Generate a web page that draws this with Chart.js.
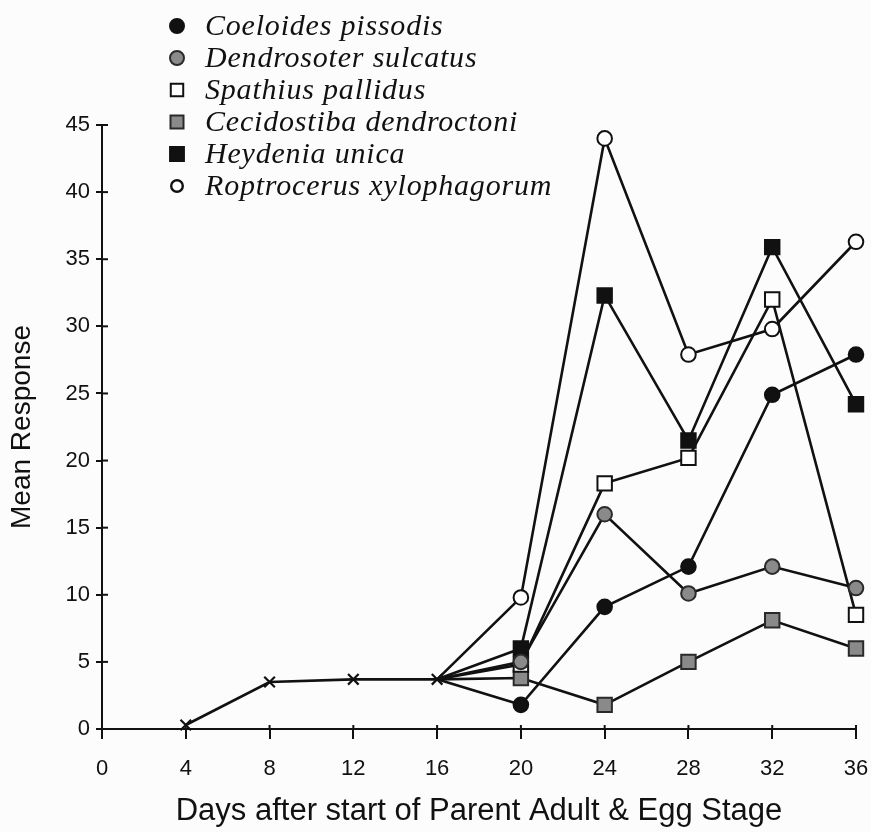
<!DOCTYPE html>
<html>
<head>
<meta charset="utf-8">
<script src="https://cdn.jsdelivr.net/npm/chart.js@4/dist/chart.umd.min.js"></script>
<style>
html, body { margin: 0; padding: 0; background: #fcfcfc; }
#wrap { width: 871px; height: 832px; position: relative; }
canvas { display: block; }
</style>
</head>
<body>
<div id="wrap"><canvas id="c" width="871" height="832"></canvas></div>
<script>
// ---- Data ----
const earlyDays   = [4, 8, 12, 16];
const earlyValues = [0.3, 3.5, 3.7, 3.7];

const lateDays    = [16, 20, 24, 28, 32, 36];
const coeloides   = [3.7, 1.8, 9.1, 12.1, 24.9, 27.9];
const dendrosoter = [3.7, 5.0, 16.0, 10.1, 12.1, 10.5];
const spathius    = [3.7, 4.8, 18.3, 20.2, 32.0, 8.5];
const cecidostiba = [3.7, 3.8, 1.8, 5.0, 8.1, 6.0];
const heydenia    = [3.7, 6.0, 32.3, 21.5, 35.9, 24.2];
const roptrocerus = [3.7, 9.8, 44.0, 27.9, 29.8, 36.3];

const speciesNames = [
  'Coeloides pissodis',
  'Dendrosoter sulcatus',
  'Spathius pallidus',
  'Cecidostiba dendroctoni',
  'Heydenia unica',
  'Roptrocerus xylophagorum'
];

const xTickValues = [0, 4, 8, 12, 16, 20, 24, 28, 32, 36];
const yTickValues = [0, 5, 10, 15, 20, 25, 30, 35, 40, 45];

const xTitle = 'Days after start of Parent Adult & Egg Stage';
const yTitle = 'Mean Response';

// ---- Styles ----
const INK = '#111111';
const GRAY = '#8a8a8a';
const markerStyles = [
  { pointStyle: 'circle', fill: INK,    border: INK,  radius: 7.3 },
  { pointStyle: 'circle', fill: GRAY,   border: '#2a2a2a', radius: 7.3 },
  { pointStyle: 'rect',   fill: '#fff', border: INK,  radius: 10.2 },
  { pointStyle: 'rect',   fill: GRAY,   border: '#2a2a2a', radius: 10.2 },
  { pointStyle: 'rect',   fill: INK,    border: INK,  radius: 10.2 },
  { pointStyle: 'circle', fill: '#fff', border: INK,  radius: 7.3 }
];
const legendMarkerSizes = [7, 7, 8.8, 9.2, 9.8, 5.8];

function pairs(xs, ys) { return xs.map((x, i) => ({ x: x, y: ys[i] })); }

const seriesValues = [coeloides, dendrosoter, spathius, cecidostiba, heydenia, roptrocerus];

const datasets = seriesValues.map((vals, k) => ({
  label: speciesNames[k],
  data: pairs(lateDays, vals),
  borderColor: INK,
  borderWidth: 2.6,
  backgroundColor: markerStyles[k].fill,
  pointStyle: markerStyles[k].pointStyle,
  pointBackgroundColor: markerStyles[k].fill,
  pointBorderColor: markerStyles[k].border,
  pointBorderWidth: 2,
  pointRadius: (ctx) => ctx.dataIndex === 0 ? 0 : markerStyles[k].radius,
  pointHoverRadius: (ctx) => ctx.dataIndex === 0 ? 0 : markerStyles[k].radius,
  tension: 0,
  fill: false,
  clip: false
}));

datasets.push({
  label: 'early',
  data: pairs(earlyDays, earlyValues),
  borderColor: INK,
  borderWidth: 2.6,
  pointStyle: 'crossRot',
  pointRadius: 7.5,
  pointBorderColor: INK,
  pointBorderWidth: 2.2,
  tension: 0,
  fill: false,
  clip: false
});

// inner halves of tick marks (ticks cross the axis lines)
const innerTicks = {
  id: 'innerTicks',
  afterDraw(chart) {
    const ctx = chart.ctx;
    const xs = chart.scales.x, ys = chart.scales.y;
    ctx.save();
    ctx.strokeStyle = INK;
    ctx.lineWidth = 2;
    xTickValues.forEach(v => {
      const px = xs.getPixelForValue(v);
      ctx.beginPath(); ctx.moveTo(px, xs.top); ctx.lineTo(px, xs.top - 4); ctx.stroke();
    });
    yTickValues.forEach(v => {
      const py = ys.getPixelForValue(v);
      ctx.beginPath(); ctx.moveTo(ys.right, py); ctx.lineTo(ys.right + 6, py); ctx.stroke();
    });
    ctx.restore();
  }
};

// legend as a vertical list at top-left
const speciesLegend = {
  id: 'speciesLegend',
  afterDraw(chart) {
    const ctx = chart.ctx;
    const mx = 177, tx = 205, y0 = 26, dy = 32;
    ctx.save();
    speciesNames.forEach((name, k) => {
      const y = y0 + k * dy;
      const m = markerStyles[k];
      ctx.fillStyle = m.fill;
      ctx.strokeStyle = m.border;
      ctx.lineWidth = (k === 5) ? 2.4 : 2;
      Chart.helpers.drawPoint(ctx, { pointStyle: m.pointStyle, radius: legendMarkerSizes[k], rotation: 0, borderWidth: ctx.lineWidth }, mx, y);
      ctx.fillStyle = INK;
      ctx.font = 'italic 30px "Liberation Serif", "Times New Roman", serif';
      if ('letterSpacing' in ctx) ctx.letterSpacing = '0.8px';
      ctx.textBaseline = 'middle';
      ctx.textAlign = 'left';
      ctx.fillText(name, tx, y + 1);
      if ('letterSpacing' in ctx) ctx.letterSpacing = '0px';
    });
    ctx.restore();
  }
};

new Chart(document.getElementById('c'), {
  type: 'line',
  data: { datasets: datasets },
  plugins: [innerTicks, speciesLegend],
  options: {
    responsive: false,
    devicePixelRatio: 1,
    animation: false,
    layout: { autoPadding: false, padding: { top: 125, right: 15, left: 0, bottom: 0 } },
    plugins: { legend: { display: false }, tooltip: { enabled: false } },
    scales: {
      x: {
        type: 'linear',
        min: 0, max: 36,
        afterBuildTicks: (s) => { s.ticks = xTickValues.map(v => ({ value: v })); },
        afterFit: (s) => { s.height = 103; s.paddingLeft = 0; s.paddingRight = 0; },
        ticks: {
          color: INK,
          font: { family: '"Liberation Sans", Arial, sans-serif', size: 22 },
          padding: 17,
          maxRotation: 0,
          autoSkip: false
        },
        grid: { drawOnChartArea: false, drawTicks: true, tickLength: 10, color: INK, lineWidth: 2 },
        border: { display: true, color: INK, width: 2 },
        title: {
          display: true, text: xTitle, color: INK,
          font: { family: '"Liberation Sans", Arial, sans-serif', size: 31 },
          padding: { top: 0, bottom: 2 }
        }
      },
      y: {
        type: 'linear',
        min: 0, max: 45,
        afterBuildTicks: (s) => { s.ticks = yTickValues.map(v => ({ value: v })); },
        afterFit: (s) => { s.width = 102; s.paddingTop = 0; s.paddingBottom = 0; },
        ticks: {
          color: INK,
          font: { family: '"Liberation Sans", Arial, sans-serif', size: 22 },
          padding: 6,
          autoSkip: false
        },
        grid: { drawOnChartArea: false, drawTicks: true, tickLength: 6, color: INK, lineWidth: 2 },
        border: { display: true, color: INK, width: 2 },
        title: {
          display: true, text: yTitle, color: INK,
          font: { family: '"Liberation Sans", Arial, sans-serif', size: 28 },
          padding: { top: 5, bottom: 0 }
        }
      }
    }
  }
});
</script>
</body>
</html>
